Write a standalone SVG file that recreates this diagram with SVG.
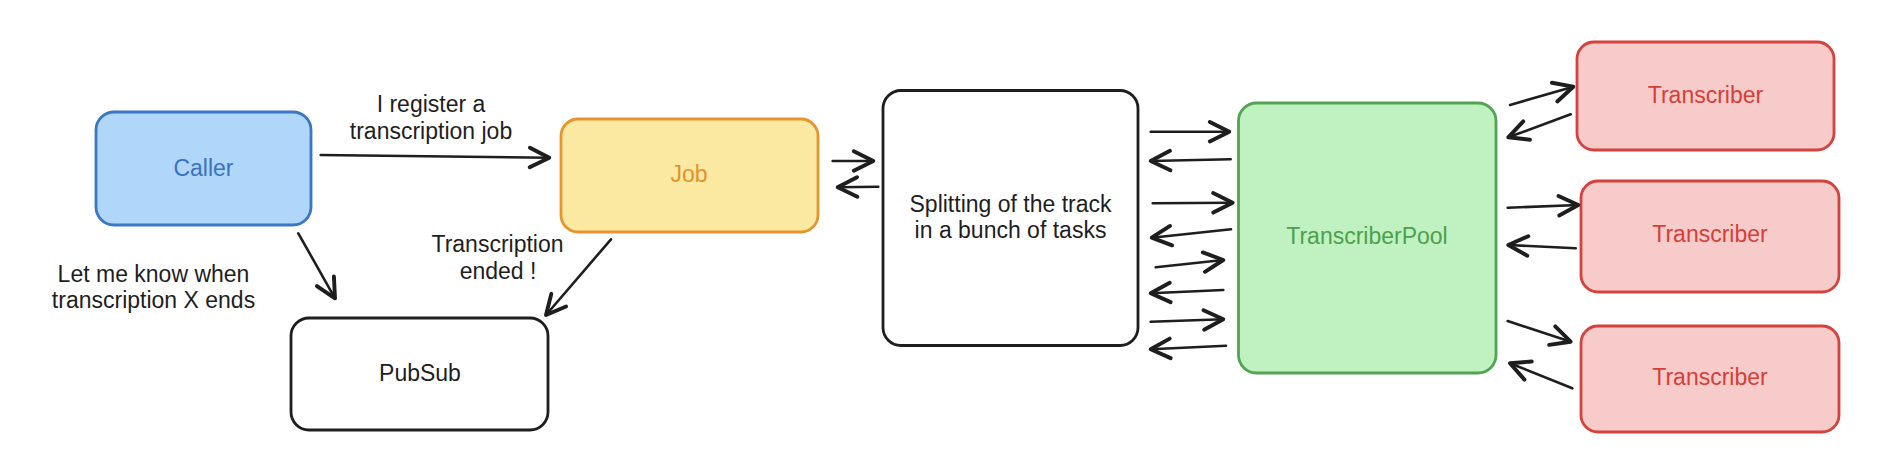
<svg xmlns="http://www.w3.org/2000/svg" width="1882" height="468" viewBox="0 0 1882 468">
<style>
text{font-family:"Liberation Sans",Helvetica,Arial,sans-serif;font-size:23px;text-anchor:middle;}
.lbl{fill:#1e1e1e;}
.box{stroke-width:2.8;}
.conn line{stroke:#1e1e1e;stroke-width:2.6;stroke-linecap:round;fill:none;marker-end:url(#ah);}
</style>
<defs>
<marker id="ah" markerUnits="userSpaceOnUse" markerWidth="30" markerHeight="30" viewBox="-16 -10 20 20" refX="0" refY="0" orient="auto">
<path d="M -13 -6.5 L 0 0 L -13 6.5" fill="none" stroke="#1e1e1e" stroke-width="2.6" stroke-linecap="round" stroke-linejoin="round"/>
</marker>
</defs>
<rect width="1882" height="468" fill="#ffffff"/>

<g id="caller">
<rect class="box" x="96" y="112" width="215" height="113" rx="18" fill="#b0d6fa" stroke="#3b77c2"/>
<text x="203.5" y="176" fill="#3a74c0">Caller</text>
</g>
<g id="job">
<rect class="box" x="561" y="119" width="257" height="113" rx="17" fill="#fbe9a1" stroke="#e6952e"/>
<text x="689" y="181.5" fill="#e3922c">Job</text>
</g>
<g id="pubsub">
<rect class="box" x="291" y="318" width="257" height="112" rx="18" fill="#ffffff" stroke="#1e1e1e"/>
<text x="420" y="381" fill="#1e1e1e">PubSub</text>
</g>
<g id="split">
<rect class="box" x="883" y="90.5" width="255" height="255" rx="18" fill="#ffffff" stroke="#1e1e1e"/>
<text x="1010.5" y="211.5" fill="#1e1e1e">Splitting of the track</text>
<text x="1010.5" y="237.5" fill="#1e1e1e">in a bunch of tasks</text>
</g>
<g id="pool">
<rect class="box" x="1238.5" y="103" width="257.5" height="270" rx="18" fill="#bff2c0" stroke="#52a352"/>
<text x="1367" y="244" fill="#4ea04e">TranscriberPool</text>
</g>
<g id="transcriber1">
<rect class="box" x="1577" y="42" width="257" height="108" rx="17" fill="#f8cbcb" stroke="#d4423d"/>
<text x="1705.5" y="103.3" fill="#d43f38">Transcriber</text>
</g>
<g id="transcriber2">
<rect class="box" x="1581" y="181" width="258" height="111" rx="17" fill="#f8cbcb" stroke="#d4423d"/>
<text x="1710" y="242.3" fill="#d43f38">Transcriber</text>
</g>
<g id="transcriber3">
<rect class="box" x="1581" y="326" width="258" height="106" rx="17" fill="#f8cbcb" stroke="#d4423d"/>
<text x="1710" y="385" fill="#d43f38">Transcriber</text>
</g>

<g id="connectors" class="conn">
<line x1="320.7" y1="155" x2="549.3" y2="157.7"/>
<line x1="298.3" y1="233.3" x2="335" y2="298.3"/>
<line x1="611" y1="239.3" x2="546" y2="315"/>
<line x1="832.7" y1="161" x2="873.3" y2="161"/>
<line x1="878.3" y1="186.7" x2="837.7" y2="187.3"/>
<line x1="1150.7" y1="131.7" x2="1229.3" y2="131.7"/>
<line x1="1230.7" y1="159.3" x2="1150.7" y2="161"/>
<line x1="1152.7" y1="203.3" x2="1232.7" y2="202.7"/>
<line x1="1231" y1="229.3" x2="1151.7" y2="237.7"/>
<line x1="1155.7" y1="267.3" x2="1223.3" y2="260"/>
<line x1="1223.3" y1="290" x2="1150.7" y2="293.3"/>
<line x1="1150.7" y1="321.7" x2="1223.3" y2="319.3"/>
<line x1="1226" y1="345.7" x2="1150.7" y2="349.3"/>
<line x1="1510" y1="105" x2="1573.3" y2="86.7"/>
<line x1="1570.7" y1="114.3" x2="1508.3" y2="137.3"/>
<line x1="1507.7" y1="207.7" x2="1578.3" y2="205"/>
<line x1="1575.7" y1="248.3" x2="1508.3" y2="245"/>
<line x1="1507.7" y1="321" x2="1570.7" y2="341.7"/>
<line x1="1572.3" y1="388.3" x2="1510" y2="363.3"/>
</g>

<g id="labels" class="lbl">
<text x="431" y="112" class="lbl">I register a</text>
<text x="431" y="139" class="lbl">transcription job</text>
<text x="497.5" y="252.3" class="lbl">Transcription</text>
<text x="498" y="279" class="lbl">ended !</text>
<text x="153.5" y="282" class="lbl">Let me know when</text>
<text x="153.5" y="308.3" class="lbl">transcription X ends</text>
</g>
</svg>
